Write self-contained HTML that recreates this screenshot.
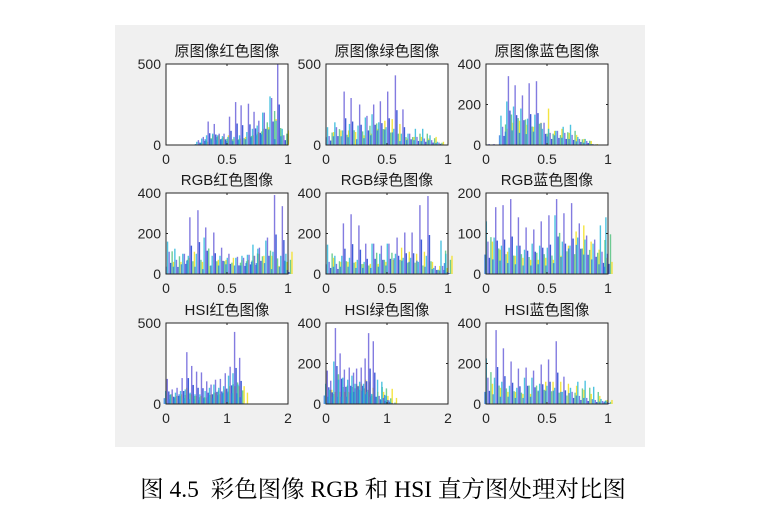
<!DOCTYPE html>
<html><head><meta charset="utf-8">
<style>
body{margin:0;width:759px;height:510px;background:#fff;overflow:hidden;font-family:"Liberation Sans","Noto Sans CJK SC",sans-serif;}
#cap{position:absolute;left:0;top:470px;width:766px;text-align:center;font-family:"Liberation Serif","Noto Serif CJK SC",serif;font-size:23.5px;color:#000;}
</style></head><body>
<svg id="fig" width="759" height="510" style="position:absolute;left:0;top:0">
<rect x="115" y="25" width="530" height="422" fill="#f0f0f0"/>
</svg>
<div id="cap">图 4.5&nbsp; 彩色图像 RGB 和 HSI 直方图处理对比图</div>
<script>
const titles=["原图像红色图像","原图像绿色图像","原图像蓝色图像","RGB红色图像","RGB绿色图像","RGB蓝色图像","HSI红色图像","HSI绿色图像","HSI蓝色图像"];
const xMaxes=[1,1,1,1,1,1,2,2,1];
const yMaxes=[500,500,400,400,400,200,500,400,400];
const xTickSets=[[0,0.5,1],[0,0.5,1],[0,0.5,1],[0,0.5,1],[0,0.5,1],[0,0.5,1],[0,1,2],[0,1,2],[0,0.5,1]];
const yTickSets=[[0,500],[0,500],[0,200,400],[0,200,400],[0,200,400],[0,100,200],[0,500],[0,200,400],[0,200,400]];
const groups=[
[0.26,0.30,0.34,0.39,0.43,0.47,0.515,0.565,0.61,0.67,0.716,0.755,0.80,0.86,0.91,0.96],
[0.02,0.08,0.143,0.2,0.27,0.33,0.385,0.44,0.5,0.563,0.625,0.68,0.74,0.8,0.86,0.92],
[0.02,0.06,0.13,0.178,0.233,0.293,0.348,0.408,0.47,0.52,0.58,0.64,0.70,0.76,0.82,0.87],
[0.02,0.08,0.145,0.19,0.256,0.32,0.386,0.45,0.51,0.58,0.63,0.675,0.72,0.76,0.826,0.884,0.948,0.99],
[0.02,0.08,0.137,0.2,0.264,0.32,0.385,0.448,0.51,0.577,0.64,0.7,0.764,0.83,0.89,0.95,0.99],
[0.01,0.074,0.134,0.197,0.26,0.323,0.386,0.447,0.51,0.573,0.633,0.696,0.759,0.819,0.885,0.945,0.99],
[0.01,0.09,0.17,0.253,0.33,0.41,0.49,0.57,0.656,0.727,0.80,0.88,0.96,1.04,1.113,1.196,1.25],
[0.01,0.066,0.143,0.22,0.29,0.37,0.44,0.49,0.566,0.63,0.687,0.764,0.86,0.93,1.0,1.07],
[0.01,0.077,0.137,0.2,0.26,0.323,0.384,0.447,0.507,0.57,0.633,0.7,0.76,0.82,0.89,0.95,0.99]];
const spikes=[
[30,50,145,130,70,70,175,265,245,255,205,150,200,290,500,60],
[55,110,330,290,250,180,250,270,330,430,220,70,50,40,30,15],
[5,5,90,340,295,245,305,315,110,60,70,60,50,30,20,5],
[110,70,100,280,315,230,205,130,100,85,80,95,90,130,180,390,335,20],
[60,50,250,295,240,150,150,140,150,180,205,205,340,385,40,40,10],
[80,165,170,185,140,115,110,130,145,185,150,175,125,95,85,55,50],
[155,90,100,160,320,235,200,195,140,120,150,155,190,230,445,285,5],
[165,115,375,250,170,180,155,175,180,225,350,310,40,30,20,5],
[130,365,275,210,175,180,165,195,220,310,135,60,40,30,20,15,10]];
const secondary=[
[20,40,60,70,60,55,50,50,60,80,100,120,200,300,150,100],
[110,140,90,130,120,170,190,140,110,100,70,70,100,100,60,20],
[3,3,145,215,190,180,130,150,80,80,70,90,100,40,30,5],
[160,125,100,90,100,180,90,90,80,80,90,95,145,125,165,110,90,100],
[145,90,90,80,70,60,150,100,150,100,80,80,60,90,30,165,100],
[130,90,70,65,70,60,75,70,65,145,80,70,90,85,75,120,140],
[80,60,70,80,90,70,60,60,80,100,120,100,110,175,190,120,5],
[100,70,210,120,130,120,140,100,110,100,60,50,120,110,40,10],
[225,130,110,90,80,130,130,100,90,80,60,80,110,115,85,25,15]];
const low=[
[10,20,60,60,50,60,40,40,50,60,80,100,110,160,60,90],
[80,90,90,80,60,70,100,150,160,130,40,50,50,40,50,20],
[2,2,80,110,120,100,90,110,180,70,80,60,50,30,20,5],
[60,60,80,110,60,40,70,70,80,70,70,90,100,90,90,40,60,110],
[80,60,60,60,50,50,50,60,70,130,110,100,110,60,40,30,90],
[80,60,55,45,40,35,35,40,35,45,70,105,120,80,60,40,30],
[60,50,60,100,60,50,50,40,60,70,60,90,110,110,110,110,70],
[70,60,60,60,60,60,90,100,120,110,80,60,60,40,75,30],
[100,80,60,60,50,50,60,110,110,110,100,90,70,50,40,20,20]];

const NS="http://www.w3.org/2000/svg";
const svg=document.getElementById('fig');
const colL=[166,326,486], colW=122;
const rowT=[64,193,323], rowH=81;
function mk(tag,attrs,parent){const e=document.createElementNS(NS,tag);for(const k in attrs)e.setAttribute(k,attrs[k]);parent.appendChild(e);return e;}
for(let p=0;p<9;p++){
  const L=colL[p%3],T=rowT[Math.floor(p/3)],W=colW,H=rowH,B=T+H;
  const xs=v=>L+v/xMaxes[p]*W;
  const ys=v=>B-Math.min(v,yMaxes[p])/yMaxes[p]*H;
  const g=mk('g',{},svg);
  
  
  const bg=mk('rect',{x:L,y:T,width:W,height:H,fill:'#fff'},g);
  
  
  const bars=[[spikes,1,0,'#5a4fd6',0.75],[secondary,1,-1.6,'#22b4d8',0.8],[spikes,0.5,1.5,'#1f3fd0',0.85],[secondary,0.7,3,'#4cc07a',0.8],[low,1,4.5,'#f2e020',0.85],[low,0.6,-3,'#2a7ee0',0.8]];
  for(let i=0;i<groups[p].length;i++){
    for(const [arr,f,dx,c,op] of bars){
      const v=arr[p][i]*f, x=xs(groups[p][i])+dx, y=ys(v);
      const r=mk('rect',{x:x.toFixed(2),y:y.toFixed(2),width:1.4,height:(B-y).toFixed(2),fill:c,'fill-opacity':op},g);
      
      
    }
  }
  const box=mk('rect',{x:L,y:T,width:W,height:H,fill:'none',stroke:'#262626','stroke-width':1},g);
  
  
  for(const t of xTickSets[p]){
    const x=xs(t);
    mk('line',{x1:x,x2:x,y1:B,y2:B-2,stroke:'#262626'},g);
    mk('line',{x1:x,x2:x,y1:T,y2:T+2,stroke:'#262626'},g);
    const tx=mk('text',{x:x,y:B+19,'text-anchor':'middle','font-size':14,fill:'#262626'},g);
    tx.textContent=t;
    
    
  }
  for(const t of yTickSets[p]){
    const y=ys(t);
    mk('line',{x1:L,x2:L+2,y1:y,y2:y,stroke:'#262626'},g);
    mk('line',{x1:L+W,x2:L+W-2,y1:y,y2:y,stroke:'#262626'},g);
    const ty=mk('text',{x:L-5,y:y+5,'text-anchor':'end','font-size':14,fill:'#262626'},g);
    ty.textContent=t;
    
    
  }
  const tt=mk('text',{x:L+W/2,y:T-8,'text-anchor':'middle','font-size':15,fill:'#1a1a1a'},g);
  tt.textContent=titles[p];
  
  
}
</script>
</body></html>
